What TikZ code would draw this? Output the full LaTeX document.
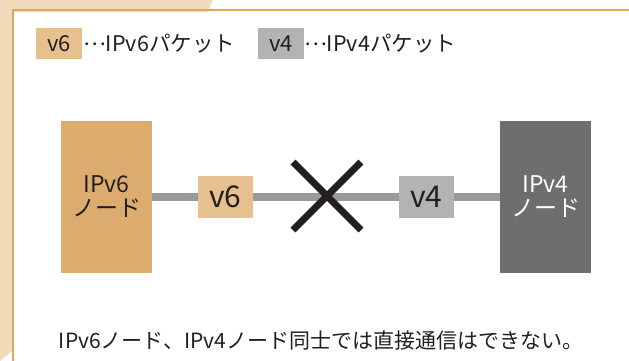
\documentclass[tikz,border=0pt]{standalone}
\usepackage{fontspec}
\setmainfont{Noto Sans CJK JP}
\definecolor{beige}{HTML}{F1DABA}
\definecolor{frame}{HTML}{E5A45A}
\definecolor{vsix}{HTML}{E6C18F}
\definecolor{nsix}{HTML}{DCAB6E}
\definecolor{vfour}{HTML}{B2B3B5}
\definecolor{nfour}{HTML}{6D6E70}
\definecolor{linkgray}{HTML}{9A9A9A}
\definecolor{ink}{HTML}{231F20}
\newcommand{\midell}{\raisebox{0.28em}{…}}
\tikzset{
  legbox/.style={minimum width=46pt, minimum height=31pt, inner sep=0pt, text=ink, font=\fontsize{22}{22}\selectfont},
  legtext/.style={anchor=west, inner sep=0pt, text=ink, font=\fontsize{21.5}{22}\selectfont},
  nodebox/.style={minimum width=91pt, minimum height=152pt, inner sep=0pt, align=center, font=\fontsize{23}{24}\selectfont},
  pkt/.style={minimum width=55pt, minimum height=42pt, inner sep=0pt, text=ink, font=\fontsize{30}{30}\selectfont},
  cross/.style={ink, line width=7pt},
}
\begin{document}
\begin{tikzpicture}[x=1pt, y=-1pt]
\useasboundingbox (0,0) rectangle (629,360);
% background
\fill[white] (0,0) rectangle (629,360);
\fill[beige] (0,0) -- (212.5,0) -- (208,12) -- (13,12) -- (13,350) -- (0,361) -- cycle;
\draw[frame, line width=1.6pt] (13.2,361) -- (13.2,9.8) -- (630,9.8);
% legend
\node[legbox, fill=vsix] (l6) at (59,43.5) {v6};
\node[legtext] (t6) at (83,44) {\midell IPv6パケット};
\node[legbox, fill=vfour] (l4) at (281,43.5) {v4};
\node[legtext] (t4) at (304,44) {\midell IPv4パケット};
% nodes
\node[nodebox, fill=nsix, text=ink] (n6) at (106.5,197) {IPv6\\ノード};
\node[nodebox, fill=nfour, text=white] (n4) at (545.5,197) {IPv4\\ノード};
\draw[linkgray, line width=7.5pt] (n6.east) -- (n4.west);
\node[pkt, fill=vsix] (p6) at (225.5,197) {v6};
\node[pkt, fill=vfour] (p4) at (426.5,197) {v4};
% cross
\coordinate (xa) at (293,162);
\coordinate (xb) at (361,230);
\coordinate (xc) at (293,230);
\coordinate (xd) at (361,162);
\draw[cross] (xa) -- (xb);
\draw[cross] (xc) -- (xd);
% caption
\node[text=ink, inner sep=0pt, font=\fontsize{21}{22}\selectfont] (cap) at (321,340) {IPv6ノード、IPv4ノード同士では直接通信はできない。};
\end{tikzpicture}
\end{document}
